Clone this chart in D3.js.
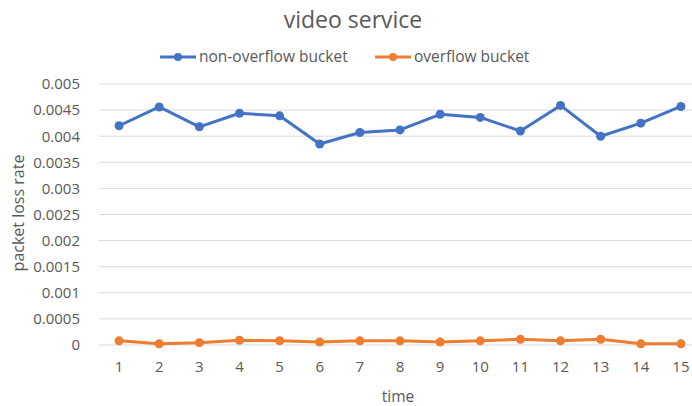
<!DOCTYPE html>
<html>
<head>
<meta charset="utf-8">
<script src="https://cdn.jsdelivr.net/npm/d3@7"></script>
<style>
  body { margin: 0; background: #fff; }
  text { font-family: "Open Sans", sans-serif; fill: #595959; }
</style>
</head>
<body>
<div id="chart"></div>
<script>
// chart data
const times = [1, 2, 3, 4, 5, 6, 7, 8, 9, 10, 11, 12, 13, 14, 15];
const nonOverflow = [0.0042, 0.00456, 0.00418, 0.00444, 0.00439, 0.00385, 0.00407, 0.00412,
                     0.00442, 0.00436, 0.0041, 0.00459, 0.0040, 0.00425, 0.00457];
const overflow = [0.00008, 0.000025, 0.000045, 0.00009, 0.000082, 0.000057, 0.00008, 0.00008,
                  0.000057, 0.00008, 0.00011, 0.00008, 0.00011, 0.000025, 0.000025];
const yTicks = [0, 0.0005, 0.001, 0.0015, 0.002, 0.0025, 0.003, 0.0035, 0.004, 0.0045, 0.005];
const seriesNames = ["non-overflow bucket", "overflow bucket"];
const colors = ["#4472C4", "#ED7D31"];

const svgWidth = 692, svgHeight = 406;
const margin = { top: 84, right: -9, bottom: 61, left: 99 };
const width = svgWidth - margin.left - margin.right;
const height = svgHeight - margin.top - margin.bottom;

const svg = d3.select("#chart").append("svg")
    .attr("width", svgWidth)
    .attr("height", svgHeight);

const g = svg.append("g")
    .attr("transform", "translate(" + margin.left + "," + margin.top + ")");

const x = d3.scaleBand().domain(times).range([0, width]);
const y = d3.scaleLinear().domain([0, 0.005]).range([height, 0]);

// gridlines
g.append("g").selectAll("line").data(yTicks).enter().append("line")
    .attr("x1", 0).attr("x2", width)
    .attr("y1", d => y(d)).attr("y2", d => y(d))
    .attr("stroke", "#d9d9d9").attr("stroke-width", 1);

// y axis
const yAxis = d3.axisLeft(y).tickValues(yTicks).tickSize(0).tickPadding(19)
    .tickFormat(d => d === 0 ? "0" : d3.format("")(+d.toFixed(4)));
g.append("g").call(yAxis)
    .call(s => s.select(".domain").remove())
    .selectAll("text").style("font-size", "15px").attr("fill", "#595959");

// x axis
const xAxis = d3.axisBottom(x).tickSize(0).tickPadding(16);
g.append("g").attr("transform", "translate(0," + height + ")").call(xAxis)
    .call(s => s.select(".domain").remove())
    .selectAll("text").style("font-size", "15px").attr("fill", "#595959");

// lines
const line = d3.line().x((d, i) => x(times[i]) + x.bandwidth() / 2).y(d => y(d));
[nonOverflow, overflow].forEach((vals, k) => {
    g.append("path").datum(vals)
        .attr("fill", "none").attr("stroke", colors[k]).attr("stroke-width", 3)
        .attr("stroke-linejoin", "round")
        .attr("d", line);
    g.append("g").selectAll("circle").data(vals).enter().append("circle")
        .attr("cx", (d, i) => x(times[i]) + x.bandwidth() / 2)
        .attr("cy", d => y(d))
        .attr("r", 4.5)
        .attr("fill", colors[k]);
});

// title
svg.append("text").attr("x", 353).attr("y", 28).attr("text-anchor", "middle")
    .style("font-size", "23px").text("video service");

// legend
const legendX = [160, 375];
seriesNames.forEach((name, k) => {
    const lg = svg.append("g").attr("transform", "translate(" + legendX[k] + ",57)");
    lg.append("line").attr("x1", 0).attr("x2", 36).attr("stroke", colors[k]).attr("stroke-width", 3);
    lg.append("circle").attr("cx", 18).attr("r", 4).attr("fill", colors[k]);
    lg.append("text").attr("x", 39).attr("dy", "0.35em").style("font-size", "15.5px").text(name);
});

// axis titles
svg.append("text").attr("x", 398).attr("y", 402).attr("text-anchor", "middle")
    .style("font-size", "15.5px").text("time");
svg.append("text").attr("transform", "translate(24,213) rotate(-90)")
    .attr("text-anchor", "middle").style("font-size", "16px").text("packet loss rate");
</script>
</body>
</html>
